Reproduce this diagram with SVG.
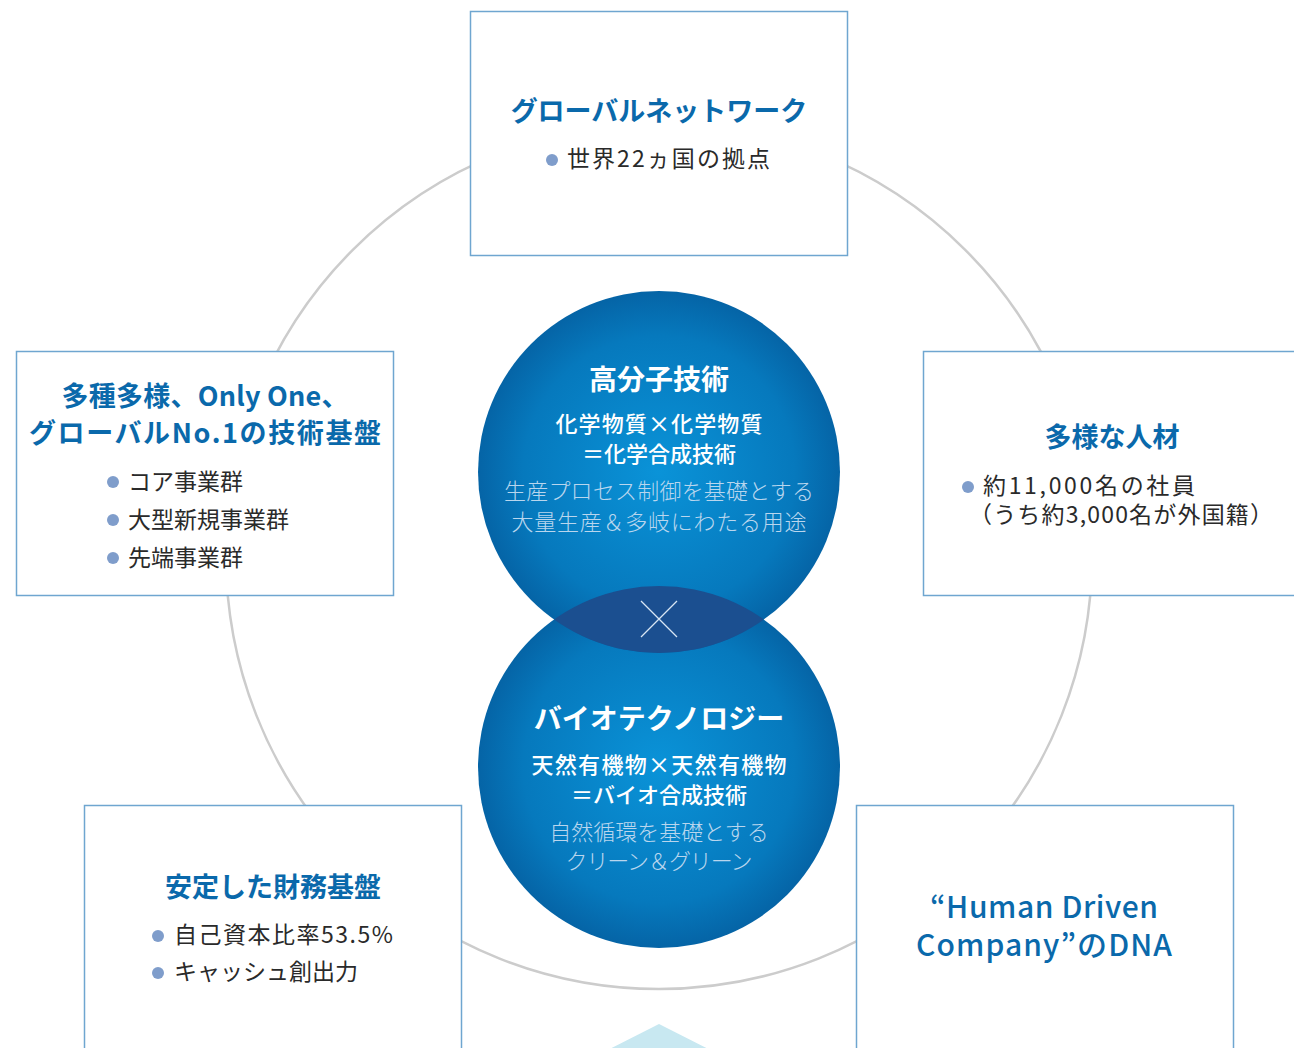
<svg xmlns="http://www.w3.org/2000/svg" width="1294" height="1048" viewBox="0 0 1294 1048">
<defs>
<style>
.box{fill:#fff;stroke:#6fa6d0;stroke-width:1.5}
.ttl{font-family:"Noto Sans CJK JP","Noto Sans",sans-serif;font-weight:700;fill:#0a69ab;font-size:27px;text-anchor:middle}
.item{font-family:"Noto Sans CJK JP","Noto Sans",sans-serif;fill:#2a2a2a;font-size:23px}
.dot{fill:#7f9dcb}
.ctl{font-family:"Noto Sans CJK JP","Noto Sans",sans-serif;font-weight:700;fill:#fff;font-size:28px;text-anchor:middle}
.csub{font-family:"Noto Sans CJK JP","Noto Sans",sans-serif;font-weight:500;fill:#fff;font-size:22px;text-anchor:middle}
.clight{font-family:"Noto Sans CJK JP","Noto Sans",sans-serif;font-weight:300;fill:#b9d6ee;font-size:22px;text-anchor:middle}
.hd{font-family:"Noto Sans CJK JP","Noto Sans",sans-serif;font-weight:500;fill:#0a69ab;font-size:30px;text-anchor:middle}
</style>
<radialGradient id="blue" cx="50%" cy="50%" r="50%">
<stop offset="0" stop-color="#0a93d8"/>
<stop offset="0.75" stop-color="#0679bd"/>
<stop offset="1" stop-color="#0564a6"/>
</radialGradient>
<clipPath id="topc"><circle cx="659" cy="472" r="181"/></clipPath>
</defs>
<rect width="1294" height="1048" fill="#fff"/>
<g id="connectors">
<circle cx="659" cy="556" r="433" fill="none" stroke="#cccccc" stroke-width="2.5"/>
</g>
<polygon id="triangle" points="659,1024 580,1064 738,1064" fill="#c8e8f1"/>
<g id="core">
<circle cx="659" cy="767" r="181" fill="url(#blue)"/>
<circle cx="659" cy="472" r="181" fill="url(#blue)"/>
<circle cx="659" cy="767" r="181" fill="#1b4f90" clip-path="url(#topc)"/>
<path d="M641,601 L677,637 M677,601 L641,637" stroke="#d8e6f4" stroke-width="1.3" fill="none"/>
</g>
<g id="node-polymer">
<text class="ctl" x="659" y="390">高分子技術</text>
<text class="csub" x="659" y="432" textLength="207" lengthAdjust="spacing">化学物質×化学物質</text>
<text class="csub" x="659" y="462">＝化学合成技術</text>
<text class="clight" x="659" y="499" textLength="310" lengthAdjust="spacing">生産プロセス制御を基礎とする</text>
<text class="clight" x="659" y="530" textLength="295" lengthAdjust="spacing">大量生産＆多岐にわたる用途</text>
</g>
<g id="node-bio">
<text class="ctl" x="659" y="729">バイオテクノロジー</text>
<text class="csub" x="659" y="773" textLength="255" lengthAdjust="spacing">天然有機物×天然有機物</text>
<text class="csub" x="659" y="803">＝バイオ合成技術</text>
<text class="clight" x="659" y="840">自然循環を基礎とする</text>
<text class="clight" x="659" y="869" textLength="187" lengthAdjust="spacing">クリーン＆グリーン</text>
</g>
<g id="node-global">
<rect class="box" x="470.5" y="11.5" width="377" height="244"/>
<text class="ttl" x="659" y="121">グローバルネットワーク</text>
<circle class="dot" cx="552" cy="160" r="6"/>
<text class="item" x="567" y="167" textLength="203" lengthAdjust="spacing">世界22ヵ国の拠点</text>
</g>
<g id="node-tech">
<rect class="box" x="16.5" y="351.5" width="377" height="244"/>
<text class="ttl" x="205" y="406" textLength="287" lengthAdjust="spacing">多種多様、Only One、</text>
<text class="ttl" x="205" y="443" textLength="352" lengthAdjust="spacing">グローバルNo.1の技術基盤</text>
<circle class="dot" cx="113" cy="482" r="6"/>
<text class="item" x="128" y="490">コア事業群</text>
<circle class="dot" cx="113" cy="520" r="6"/>
<text class="item" x="128" y="528">大型新規事業群</text>
<circle class="dot" cx="113" cy="558" r="6"/>
<text class="item" x="128" y="566">先端事業群</text>
</g>
<g id="node-people">
<rect class="box" x="923.5" y="351.5" width="380" height="244"/>
<text class="ttl" x="1112" y="447">多様な人材</text>
<circle class="dot" cx="968" cy="487" r="6"/>
<text class="item" x="983" y="494" textLength="212" lengthAdjust="spacing">約11,000名の社員</text>
<text class="item" x="969" y="523" textLength="304" lengthAdjust="spacing">（うち約3,000名が外国籍）</text>
</g>
<g id="node-finance">
<rect class="box" x="84.5" y="805.5" width="377" height="260"/>
<text class="ttl" x="273" y="897">安定した財務基盤</text>
<circle class="dot" cx="158" cy="936" r="6"/>
<text class="item" x="174" y="943" textLength="219" lengthAdjust="spacing">自己資本比率53.5%</text>
<circle class="dot" cx="158" cy="973" r="6"/>
<text class="item" x="174" y="980">キャッシュ創出力</text>
</g>
<g id="node-dna">
<rect class="box" x="856.5" y="805.5" width="377" height="260"/>
<text class="hd" x="1044" y="918" textLength="228" lengthAdjust="spacing">“Human Driven</text>
<text class="hd" x="1044" y="956" textLength="256" lengthAdjust="spacing">Company”のDNA</text>
</g>
</svg>
